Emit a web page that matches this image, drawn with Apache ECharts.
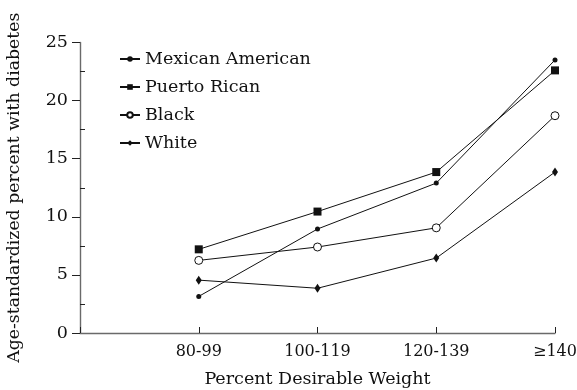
<!DOCTYPE html>
<html>
<head>
<meta charset="utf-8">
<script src="https://cdn.jsdelivr.net/npm/echarts@6/dist/echarts.min.js"></script>
<style>
html,body{margin:0;padding:0;background:#fff;}
#chart{width:577px;height:390px;}
</style>
</head>
<body>
<div id="chart"></div>
<script>
var categories = ['80-99', '100-119', '120-139', '\u2265140'];
var mexicanAmerican = [3.15, 8.95, 12.9, 23.5];
var puertoRican = [7.2, 10.45, 13.85, 22.6];
var black = [6.25, 7.4, 9.05, 18.7];
var white = [4.55, 3.85, 6.45, 13.85];
var yTicks = [0, 5, 10, 15, 20, 25];

var FONT = 'DejaVu Serif';

function toPairs(arr) {
  return arr.map(function (v, i) { return [i + 1, v]; });
}

var chart = echarts.init(document.getElementById('chart'), null, {renderer: 'canvas'});

function lineSeries(name, data, symbol, size, fill) {
  return {
    name: name,
    type: 'line',
    data: toPairs(data),
    symbol: symbol,
    symbolSize: size,
    showSymbol: true,
    lineStyle: {color: '#111', width: 1},
    itemStyle: {color: fill, borderColor: '#111', borderWidth: fill === '#fff' ? 1 : 0},
    emphasis: {disabled: true},
    animation: false,
    z: 3
  };
}

var option = {
  animation: false,
  backgroundColor: '#fff',
  grid: {left: 80, right: 22, top: 42.5, bottom: 57, containLabel: false, outerBoundsMode: 'none'},
  legend: {
    orient: 'vertical',
    left: 119,
    top: 49,
    padding: 0,
    itemWidth: 20,
    itemHeight: 7,
    itemGap: 8,
    textStyle: {fontFamily: FONT, fontSize: 17.5, color: '#111', lineHeight: 20},
    data: ['Mexican American', 'Puerto Rican', 'Black', 'White']
  },
  xAxis: {
    type: 'value',
    min: 0,
    max: 4,
    interval: 1,
    splitLine: {show: false},
    axisLine: {show: true, lineStyle: {color: '#6a6a6a', width: 1.4}},
    axisTick: {show: true, inside: true, length: 6, lineStyle: {color: '#222', width: 1}},
    axisLabel: {
      fontFamily: FONT, fontSize: 16, color: '#111', margin: 11,
      formatter: function (v) { return v >= 1 ? categories[v - 1] : ''; }
    },
    name: 'Percent Desirable Weight',
    nameLocation: 'middle',
    nameGap: 37,
    nameTextStyle: {fontFamily: FONT, fontSize: 17.5, color: '#111'}
  },
  yAxis: [{
    type: 'value',
    min: yTicks[0],
    max: yTicks[yTicks.length - 1],
    interval: 5,
    splitLine: {show: false},
    axisLine: {show: true, lineStyle: {color: '#6a6a6a', width: 1.4}},
    axisTick: {show: true, inside: false, length: 8, lineStyle: {color: '#222', width: 1}},
    axisLabel: {fontFamily: FONT, fontSize: 17.5, color: '#111', margin: 12},
    name: 'Age-standardized percent with diabetes',
    nameLocation: 'middle',
    nameGap: 57,
    nameTextStyle: {fontFamily: FONT, fontSize: 17.3, color: '#111'}
  }, {
    type: 'value',
    position: 'left',
    offset: -5,
    min: yTicks[0],
    max: yTicks[yTicks.length - 1],
    interval: 5,
    splitLine: {show: false},
    axisLine: {show: false},
    axisLabel: {show: false},
    axisTick: {show: false},
    minorTick: {show: true, splitNumber: 2, length: 5, lineStyle: {color: '#222', width: 1}},
    minorSplitLine: {show: false}
  }],
  series: [
    lineSeries('Mexican American', mexicanAmerican, 'circle', 5, '#111'),
    lineSeries('Puerto Rican', puertoRican, 'rect', 8, '#111'),
    lineSeries('Black', black, 'circle', 8, '#fff'),
    lineSeries('White', white, 'diamond', [6, 9], '#111')
  ]
};
chart.setOption(option);
</script>
</body>
</html>
